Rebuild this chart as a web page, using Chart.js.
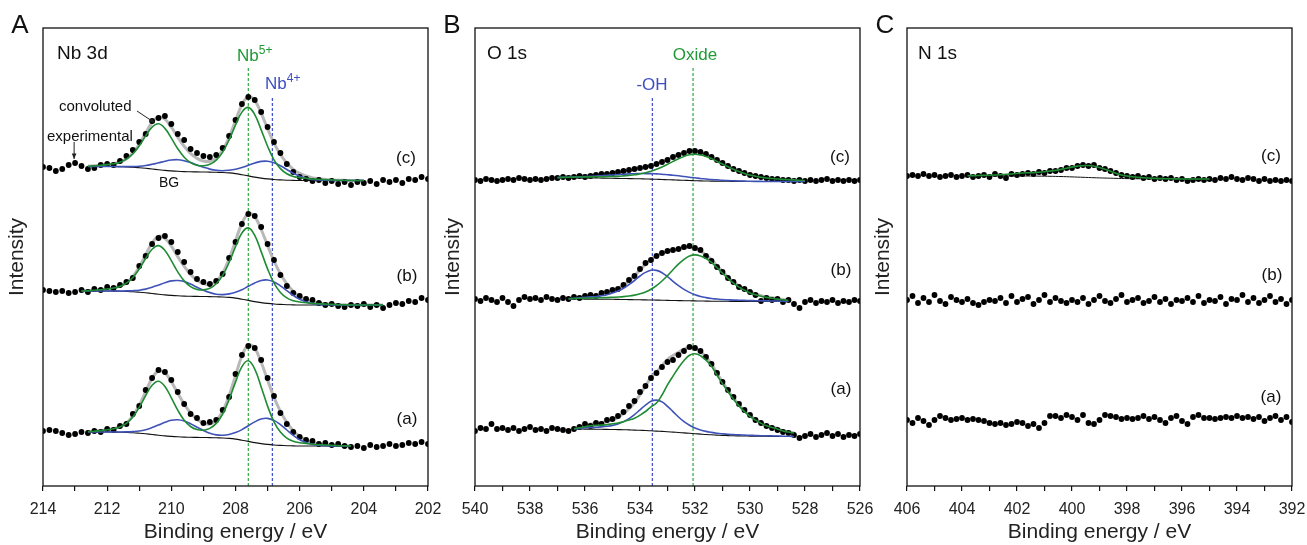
<!DOCTYPE html>
<html>
<head>
<meta charset="utf-8">
<script src="https://cdn.jsdelivr.net/npm/chart.js@4.4.0/dist/chart.umd.min.js"></script>
<style>
  html, body { margin: 0; padding: 0; background: #fff; }
  #wrap { position: relative; width: 1307px; height: 545px; font-family: "Liberation Sans", Arial, sans-serif; color: #111; }
  canvas { position: absolute; top: 0; }
  .lbl { position: absolute; white-space: nowrap; line-height: 1; }
  .c { transform: translate(-50%, -50%); }
  .l { transform: translate(0, -50%); }
  .sup { font-size: 12px; position: relative; top: -7px; }
</style>
</head>
<body>
<div id="wrap">
  <canvas id="chartA" width="445" height="545" style="left:0px"></canvas>
  <canvas id="chartB" width="445" height="545" style="left:432px"></canvas>
  <canvas id="chartC" width="445" height="545" style="left:862px"></canvas>

  <div class="lbl c" style="left:20px;top:24px;font-size:26px">A</div>
  <div class="lbl l" style="left:57px;top:52px;font-size:19px">Nb 3d</div>
  <div class="lbl l" style="left:237px;top:55px;font-size:17px;color:#1f9a35">Nb<span class="sup">5+</span></div>
  <div class="lbl l" style="left:265px;top:83px;font-size:17px;color:#3d4fc0">Nb<span class="sup">4+</span></div>
  <div class="lbl l" style="left:59px;top:105px;font-size:15px">convoluted</div>
  <div class="lbl l" style="left:47px;top:135px;font-size:15px">experimental</div>
  <div class="lbl c" style="left:169px;top:182px;font-size:14px">BG</div>
  <div class="lbl c" style="left:406px;top:157px;font-size:17px">(c)</div>
  <div class="lbl c" style="left:407px;top:275px;font-size:17px">(b)</div>
  <div class="lbl c" style="left:407px;top:418px;font-size:17px">(a)</div>

  <div class="lbl c" style="left:452px;top:24px;font-size:26px">B</div>
  <div class="lbl l" style="left:487px;top:52px;font-size:19px">O 1s</div>
  <div class="lbl c" style="left:695px;top:54px;font-size:17px;color:#1f9a35">Oxide</div>
  <div class="lbl c" style="left:652px;top:84px;font-size:17px;color:#3d4fc0">-OH</div>
  <div class="lbl c" style="left:840px;top:156px;font-size:17px">(c)</div>
  <div class="lbl c" style="left:841px;top:269px;font-size:17px">(b)</div>
  <div class="lbl c" style="left:841px;top:388px;font-size:17px">(a)</div>

  <div class="lbl c" style="left:885px;top:24px;font-size:26px">C</div>
  <div class="lbl l" style="left:918px;top:52px;font-size:19px">N 1s</div>
  <div class="lbl c" style="left:1271px;top:155px;font-size:17px">(c)</div>
  <div class="lbl c" style="left:1272px;top:274px;font-size:17px">(b)</div>
  <div class="lbl c" style="left:1271px;top:396px;font-size:17px">(a)</div>
</div>

<script>
// ===== Data (intensity in arbitrary units, spectra stacked a/b/c) =====
// Nb 3d: experimental, 214 -> 202 eV, step 0.2
const nbExpA = [55,56,55,53,51,52,54,53,55,54, 57,56,60,62,72,80,96,108,116,114, 106,94,82,72,68,63,64,66,76,89, 112,131,140,138,126,108,90,73,62,54, 49,46,45,42,43,41,42,40,39,40, 38,41,39,40,42,40,41,43,42,44, 42];
const nbExpB = [196,195,194,195,193,194,196,194,197,196, 199,198,201,204,208,220,230,242,248,250, 244,234,224,214,207,204,202,205,212,228, 244,262,272,270,259,242,226,211,200,193, 190,187,186,183,181,182,180,179,181,180, 182,179,181,178,181,183,182,185,184,188, 186];
const nbExpC = [319,318,315,317,321,323,320,317,318,321, 322,321,325,330,336,344,352,365,368,370, 362,352,346,337,333,330,329,331,338,350, 366,382,389,386,374,359,344,333,322,314, 309,307,305,306,303,305,302,304,301,304, 303,305,302,306,304,306,303,307,306,309, 307];

// Nb 3d fits (a): 212.6 -> 204.4 eV, step 0.2
const nbBgA = [54,54,54,54,53.9,53.8,53.6,53.3,52.8,52.2, 51.5,50.8,50.1,49.6,49.2,48.9,48.7,48.6,48.5,48.4, 48.2,48.0,47.6,46.9,45.8,44.6,43.4,42.4,41.6,41.0, 40.6,40.3,40.1,40,40,40,40,40,40,40, 40,40];
const nbNb5A = [54.3,54.8,55.4,56.2,57.3,59.1,62.7,69.1,78.6,90.3, 100.7,104.8,99.5,88.2,75.8,65.8,59.5,56.4,55.8,57.6, 62.6,72.0,86.4,103.9,119.4,125.2,116.9,99.1,79.9,64.2, 53.9,47.9,44.8,43.3,42.6,41.8,41.4,41.0,40.7,40.4, 40.2,40.0];
const nbNb4A = [54,54,54,54,54,54,54.1,54.4,55.0,56.3, 58.4,61.0,63.7,65.7,66.2,65.0,62.3,58.8,55.5,52.8, 51.1,50.7,51.5,53.4,56.4,60.3,64.1,67.0,67.6,65.6, 61.3,56.0,50.6,46.3,43.4,41.6,40.7,40.3,40.1,40, 40,40];
const nbEnvA = [54.3,54.8,55.4,56.2,57.4,59.3,63.2,70.2,80.8,94.4, 107.6,115.0,113.1,104.3,92.8,81.9,73.1,66.6,62.8,62.0, 65.5,74.7,90.3,110.4,130.0,140.9,137.6,123.7,105.9,88.8, 74.6,63.6,55.3,49.6,46.0,43.4,42.1,41.3,40.8,40.4, 40.2,40.0];

// Nb 3d fits (b): 212.8 -> 203.4 eV, step 0.2
const nbBgB = [195, 195,195,195,195,194.9,194.8,194.6,194.3,193.8,193.2, 192.5,191.8,191.1,190.6,190.2,189.9,189.7,189.6,189.5,189.4, 189.2,189.0,188.6,187.9,186.8,185.6,184.4,183.4,182.6,182.0, 181.6,181.3,181.1,181,181,181,181,181,181,181, 181,181, 181,181,181,181,181];
const nbNb5B = [195, 195.3,195.7,196.3,197.0,198.0,199.6,202.8,208.5,217.0,227.5, 236.8,240.4,235.6,225.3,214.1,205.1,199.4,196.6,196.1,197.7, 202.2,210.6,223.5,239.2,253.0,258.1,250.6,234.4,217.1,202.9, 193.6,188.1,185.3,184.0,183.3,182.6,182.3,181.9,181.6,181.4, 181.2,181.0, 181,181,181,181,181];
const nbNb4B = [195, 195,195,195,195,195.0,195.0,195.1,195.3,195.8,196.9, 198.7,201.0,203.3,205.1,205.5,204.4,201.9,198.8,195.8,193.4, 191.8,191.4,192.1,193.8,196.3,199.7,203.0,205.5,206.0,204.1, 200.2,195.4,190.6,186.7,184.1,182.4,181.6,181.3,181.1,181, 181,181, 181,181,181,181,181];
const nbEnvB = [195, 195.3,195.7,196.3,197.0,198.1,199.8,203.3,209.5,219.0,231.2, 243.0,249.6,247.8,239.8,229.4,219.6,211.6,205.8,202.4,201.7, 204.8,213.0,227.0,245.1,262.5,272.2,269.2,256.5,240.5,225.0, 212.2,202.2,194.8,189.7,186.4,184.0,182.9,182.2,181.7,181.4, 181.2,181.0, 181,181,181,181,181];

// Nb 3d fits (c): 212.6 -> 204.0 eV, step 0.2
const nbBgC = [319.5,319.5,319.5,319.5,319.4,319.3,319.1,318.8,318.3,317.7, 317.0,316.3,315.6,315.1,314.7,314.4,314.2,314.1,314.0,313.9, 313.7,313.5,313.1,312.4,311.3,310.1,308.9,307.9,307.1,306.5, 306.1,305.8,305.6,305.5,305.5,305.5,305.5,305.5,305.5,305.5, 305.5,305.5,305.5,305.5];
const nbNb5C = [319.8,320.2,320.7,321.4,322.3,323.8,326.8,332.2,340.2,350.1, 358.8,362.2,357.6,347.9,337.3,328.8,323.4,320.7,320.2,321.7, 325.9,333.9,346.1,360.9,373.9,378.6,371.4,356.1,339.7,326.2, 317.4,312.3,309.6,308.3,307.7,307.0,306.7,306.4,306.1,305.8, 305.7,305.5,305.5,305.5];
const nbNb4C = [319.5,319.5,319.5,319.5,319.5,319.4,319.4,319.5,319.8,320.5, 321.7,323.2,324.8,326.0,326.3,325.3,323.4,321.0,318.8,316.9, 315.7,315.3,315.8,316.8,318.5,320.8,323.0,324.6,324.8,323.2, 320.2,316.5,312.7,309.8,307.8,306.6,306.0,305.7,305.6,305.5, 305.5,305.5,305.5,305.5];
const nbEnvC = [319.8,320.2,320.7,321.4,322.4,323.9,327.1,332.9,341.7,352.9, 363.5,369.1,366.8,358.8,348.9,339.7,332.6,327.6,325.0,324.7, 327.9,335.7,348.8,365.3,381.1,389.3,385.5,372.8,357.4,342.9, 331.5,323.0,316.7,312.6,310.0,308.1,307.2,306.6,306.2,305.8, 305.7,305.5,305.5,305.5];

// O 1s: experimental, 540 -> 526 eV, step 0.2
const oExpA = [55,58,57,62,57,58,56,58,55,57, 59,56,57,55,58,57,56,55,57,59, 62,60,63,62,66,67,70,74,80,85, 94,100,108,113,119,124,126,131,135,139, 138,135,129,122,113,104,96,89,82,76, 71,66,63,60,58,56,54,53,51,48, 50,52,49,51,53,50,52,49,51,50, 52];
const oExpB = [187,185,188,186,184,188,184,180,186,189, 187,188,186,189,187,186,188,187,189,188, 190,191,190,193,194,196,197,201,206,210, 217,223,226,230,233,235,236,237,239,240, 238,236,230,225,219,214,208,204,199,197, 194,191,185,188,186,187,184,186,182,178, 184,186,183,185,184,186,183,185,184,186, 185];
const oExpC = [306,305,307,306,305,306,307,306,308,307, 306,307,306,307,308,308,309,308,309,310, 309,310,311,312,312,313,314,315,316,317, 318,319,320,322,324,326,329,331,333,335, 335,334,332,329,326,323,320,317,315,313, 311,310,309,308,307,307,306,306,305,306, 305,306,305,306,307,305,306,305,306,305, 306];

// O 1s fits (a): 536.4 -> 528.4 eV, step 0.2
const oBgA = [57.0,57.0,56.9,56.9,56.8,56.7,56.6,56.5,56.4,56.3, 56.1,55.9,55.7,55.5,55.2,54.9,54.6,54.3,53.9,53.5, 53.1,52.7,52.3,51.9,51.5,51.2,50.9,50.6,50.4,50.2, 50.1,50.0,49.9,49.8,49.7,49.7,49.6,49.6,49.5,49.5, 49.5];
const oOxA = [57.4,58.2,59.2,60.3,60.6,60.9,61.4,62.2,62.9,64.3, 65.9,67.7,70.9,74.5,79.2,83,91,101.1,109.9,118.3, 125.5,130.7,132.3,130.3,125.9,119.8,110.7,102.4,94.2,86.8, 80.1,74.3,69.7,65.8,62.7,60.2,58.6,57.1,55.0,54.0, 53.0];
const oOhA = [57.0,57.6,58.2,58.5,58.7,59.1,59.7,60.6,62.1,64.4, 67.4,71.4,76.2,80.9,84.7,85.9,84.1,79.7,74.4,69.0, 64.4,60.8,58.0,56.0,54.6,53.6,52.8,52.2,51.7,51.4, 51.1,50.9,50.7,50.5,50.3,50.2,50.1,50.0,49.8,49.7, 49.5];
const oEnvA = [57.4,58.8,60.5,61.9,62.5,63.3,64.5,66.3,68.6,72.4, 77.2,83.2,91.4,99.9,108.7,114.0,120.5,126.5,130.4,133.8, 136.8,138.8,138.0,134.4,129.0,122.2,112.6,104.0,95.5,88.0, 81.1,75.2,70.5,66.5,63.3,60.7,59.1,57.5,55.3,54.2, 53.0];

// O 1s fits (b): 536.6 -> 528.6 eV, step 0.2
const oBgB = [187.0,187.0,187.0,186.9,186.9,186.8,186.8,186.7,186.7,186.6, 186.5,186.4,186.3,186.2,186.1,186.0,185.9,185.8,185.6,185.5, 185.4,185.3,185.2,185.1,185.0,184.9,184.8,184.8,184.7,184.7, 184.6,184.6,184.6,184.5,184.5,184.5,184.5,184.5,184.5,184.5, 184.5];
const oOxB = [187.3,187.5,187.7,187.8,188.0,188.1,188.3,188.4,188.7,189.0, 189.4,190.0,190.9,192.2,194.1,196.8,200.4,205.0,210.4,216.3, 221.9,226.6,230.0,231.1,230.1,227.5,223.6,218.2,212.7,207.5, 202.8,198.9,195.7,193.1,191.2,189.7,188.6,187.7,186.9,186.2, 185.5];
const oOhB = [187.0,187.6,188.2,188.7,189.1,189.5,190.3,191.3,192.9,195.0, 197.8,201.4,205.5,210.0,213.6,215.7,215.6,213.3,209.4,204.7, 200.4,196.6,193.6,191.3,189.6,188.4,187.5,187.0,186.5,186.2, 185.9,185.8,185.6,185.4,185.3,185.2,185.1,185.0,184.9,184.7, 184.5];
const oEnvB = [187.3,188.1,188.9,189.6,190.2,190.8,191.8,193.0,194.9,197.4, 200.7,205.0,210.1,216.0,221.6,226.5,230.1,232.5,234.2,235.5, 236.9,237.9,238.4,237.3,234.7,231.0,226.3,220.4,214.5,209.0, 204.1,200.1,196.7,194.0,192.0,190.4,189.2,188.2,187.3,186.4, 185.5];

// O 1s fits (c): 537.0 -> 528.0 eV, step 0.2
const oBgC = [308.3,308.3,308.2,308.2,308.1,308.1,308.0,308.0,307.9,307.8, 307.7,307.6,307.5,307.4,307.3,307.2,307.0,306.9,306.7,306.5, 306.3,306.1,305.9,305.7,305.5,305.3,305.1,305.0,304.9,304.8, 304.7,304.7,304.6,304.6,304.6,304.5,304.5,304.5,304.5,304.5, 304.5,304.5,304.5,304.5,304.5,304.5];
const oOxC = [308.3,308.6,308.7,308.9,309.0,309.1,309.1,309.3,309.3,309.4, 309.6,309.7,310.1,310.6,311.2,312.2,313.3,314.8,316.7,319.0, 321.7,324.6,327.3,329.6,331.2,331.7,331.0,329.6,327.5,324.5, 321.8,319.2,316.7,314.5,312.6,311.0,309.8,308.8,308.0,307.5, 307.0,306.6,306.4,306.1,305.7,305.5];
const oOhC = [308.6,308.7,308.8,308.9,309.1,309.4,309.6,310.0,310.3,310.7, 311.0,311.4,311.8,312.1,312.3,312.5,312.4,312.4,312.1,311.8, 311.3,310.8,310.2,309.5,308.8,308.2,307.5,307.0,306.5,306.1, 305.7,305.4,305.2,305.0,304.9,304.7,304.6,304.6,304.5,304.5, 304.5,304.5,304.5,304.5,304.5,304.5];
const oEnvC = [308.6,309.0,309.3,309.6,310.0,310.4,310.7,311.3,311.7,312.3, 312.9,313.5,314.4,315.3,316.2,317.5,318.7,320.3,322.1,324.3, 326.7,329.3,331.6,333.4,334.5,334.6,333.4,331.6,329.1,325.8, 322.8,319.9,317.3,314.9,312.9,311.2,309.9,308.9,308.0,307.5, 307.0,306.6,306.4,306.1,305.7,305.5];

// N 1s: experimental, 406 -> 392 eV, step 0.2
const nExpA = [66,63,68,65,61,66,70,68,66,67, 68,66,67,66,65,63,62,63,61,62, 64,63,60,62,58,63,70,70,68,71, 69,66,71,63,62,66,71,70,69,67, 68,67,68,70,67,69,66,63,68,70, 65,62,69,71,68,68,67,68,69,68, 70,68,69,67,69,65,68,70,66,69, 64];
const nExpB = [186,190,183,188,184,191,185,182,189,186, 184,187,183,181,184,186,185,188,183,190, 184,187,189,182,186,191,184,188,185,183, 186,184,188,182,186,190,185,183,187,191, 184,186,188,183,185,189,184,187,182,186, 185,188,184,190,183,186,185,189,182,187, 186,191,184,188,183,186,190,184,187,182, 186];
const nExpC = [310,311,310,312,310,311,309,310,311,309, 310,311,309,310,311,309,312,310,308,312, 311,312,313,312,314,313,315,315,316,318, 318,320,321,320,321,318,317,315,313,311, 310,309,310,308,309,307,308,307,308,306, 307,305,306,307,306,307,306,308,307,309, 307,306,308,307,305,307,305,306,305,306, 305];
// N 1s fit (c): 403.8 -> 395.0 eV, step 0.4
const nBgC = [310.2,310.2,310.1,310.1,310.0,310.0,309.9,309.8,309.6,309.3, 308.9,308.5,308.1,307.8,307.5,307.3,307.2,307.1,307.0,307.0, 307.0,307.0,307.0];
const nFitC = [310.2,310.5,310.8,311.3,312.0,313.0,313.4,314.3,315.6,317.8, 319.9,320.5,318.6,314.8,311.0,309.3,308.2,307.6,307.3,307.1, 307.0,307.0,307.0];

// marker positions (eV) and heights of the dashed guide lines
const nb5Pos = 207.6, nb4Pos = 206.85, oxidePos = 532.07, ohPos = 533.55;
const guideTopHigh = 418, guideTopLow = 389;

// ===== Styling =====
const GREEN = "#1f8c34";
const GREEN_DASH = "#3fb04f";
const BLUE = "#3f52b8";
const BLUE_DASH = "#4455cc";
const FONT = "'Liberation Sans', Arial, sans-serif";

// spectrum from a start energy and step
function spectrum(start, step, ys) {
    return ys.map((y, i) => ({ x: +(start - i * step).toFixed(2), y: y }));
}

function dots(data) {
    return { data: data, showLine: false, pointRadius: 2.9, pointHoverRadius: 2.9,
             pointBackgroundColor: "#000", pointBorderWidth: 0, order: 3 };
}

function curve(data, color, width, order) {
    return { data: data, showLine: true, borderColor: color, borderWidth: width,
             pointRadius: 0, tension: 0.4, fill: false, order: order };
}

function guide(pos, top, color) {
    return { data: [{ x: pos, y: 0 }, { x: pos, y: top }], showLine: true, borderColor: color,
             borderWidth: 1.3, borderDash: [3, 2], pointRadius: 0, order: 6 };
}

// ===== Plugins =====
const framePlugin = {
    id: "frame",
    afterDraw(chart) {
        const { ctx, chartArea: a } = chart;
        ctx.save();
        ctx.strokeStyle = "#111";
        ctx.lineWidth = 1.3;
        ctx.strokeRect(a.left, a.top, a.right - a.left, a.bottom - a.top);
        ctx.restore();
    }
};

const arrowPlugin = {
    id: "arrows",
    afterDatasetsDraw(chart, args, opts) {
        const { ctx, scales: { x, y } } = chart;
        (opts.list || []).forEach(a => {
            const x1 = x.getPixelForValue(a.from[0]), y1 = y.getPixelForValue(a.from[1]);
            const x2 = x.getPixelForValue(a.to[0]), y2 = y.getPixelForValue(a.to[1]);
            const ang = Math.atan2(y2 - y1, x2 - x1);
            ctx.save();
            ctx.strokeStyle = "#222";
            ctx.fillStyle = "#222";
            ctx.lineWidth = 1;
            ctx.beginPath();
            ctx.moveTo(x1, y1);
            ctx.lineTo(x2, y2);
            ctx.stroke();
            ctx.beginPath();
            ctx.moveTo(x2, y2);
            ctx.lineTo(x2 - 6 * Math.cos(ang - 0.4), y2 - 6 * Math.sin(ang - 0.4));
            ctx.lineTo(x2 - 6 * Math.cos(ang + 0.4), y2 - 6 * Math.sin(ang + 0.4));
            ctx.closePath();
            ctx.fill();
            ctx.restore();
        });
    }
};

// ===== Chart builder =====
function makePanel(id, p) {
    return new Chart(document.getElementById(id), {
        type: "scatter",
        data: { datasets: p.datasets },
        plugins: [framePlugin, arrowPlugin],
        options: {
            responsive: false,
            animation: false,
            devicePixelRatio: 1,
            events: [],
            layout: { autoPadding: false, padding: { left: 0, top: 28, right: p.padRight, bottom: 0 } },
            plugins: {
                legend: { display: false },
                tooltip: { enabled: false },
                arrows: { list: p.arrows || [] }
            },
            scales: {
                x: {
                    type: "linear",
                    reverse: true,
                    min: p.xMin,
                    max: p.xMax,
                    afterFit: s => { s.height = 59; s.paddingLeft = 0; s.paddingRight = 0; },
                    border: { display: false },
                    grid: { display: true, drawOnChartArea: false, drawTicks: true, tickLength: 5,
                            color: "#111", lineWidth: 1.2 },
                    ticks: {
                        stepSize: 1, autoSkip: false, maxRotation: 0, padding: 9,
                        color: "#222", font: { family: FONT, size: 16 },
                        callback: v => (v % 2 === 0 ? v : "")
                    },
                    title: { display: true, text: "Binding energy / eV", color: "#222",
                             font: { family: FONT, size: 21, lineHeight: 1.2 },
                             padding: { top: 0, bottom: 0 } }
                },
                y: {
                    min: 0,
                    max: 458,
                    afterFit: s => { s.width = p.yWidth; },
                    border: { display: false },
                    grid: { display: false },
                    ticks: { display: false },
                    title: { display: true, text: "Intensity", color: "#222",
                             font: { family: FONT, size: 21, lineHeight: 1.2 },
                             padding: { top: p.titlePad, bottom: 0 } }
                }
            }
        }
    });
}

// ===== Panel A: Nb 3d =====
makePanel("chartA", {
    xMin: 202, xMax: 214, yWidth: 43, padRight: 17, titlePad: 5,
    arrows: [
        { from: [211.07, 375], to: [210.51, 363] },
        { from: [213.03, 344], to: [213.03, 327] }
    ],
    datasets: [
        curve(spectrum(212.6, 0.2, nbNb5A), GREEN, 1.6, 1),
        curve(spectrum(212.6, 0.2, nbNb4A), BLUE, 1.6, 1),
        curve(spectrum(212.6, 0.2, nbBgA), "#111", 1.1, 2),
        curve(spectrum(212.8, 0.2, nbNb5B), GREEN, 1.6, 1),
        curve(spectrum(212.8, 0.2, nbNb4B), BLUE, 1.6, 1),
        curve(spectrum(212.8, 0.2, nbBgB), "#111", 1.1, 2),
        curve(spectrum(212.6, 0.2, nbNb5C), GREEN, 1.6, 1),
        curve(spectrum(212.6, 0.2, nbNb4C), BLUE, 1.6, 1),
        curve(spectrum(212.6, 0.2, nbBgC), "#111", 1.1, 2),
        dots(spectrum(214, 0.2, nbExpA)),
        dots(spectrum(214, 0.2, nbExpB)),
        dots(spectrum(214, 0.2, nbExpC)),
        curve(spectrum(212.6, 0.2, nbEnvA), "#b8b8b8", 3, 4),
        curve(spectrum(212.8, 0.2, nbEnvB), "#b8b8b8", 3, 4),
        curve(spectrum(212.6, 0.2, nbEnvC), "#b8b8b8", 3, 4),
        guide(nb5Pos, guideTopHigh, GREEN_DASH),
        guide(nb4Pos, guideTopLow, BLUE_DASH)
    ]
});

// ===== Panel B: O 1s =====
makePanel("chartB", {
    xMin: 526, xMax: 540, yWidth: 43, padRight: 17, titlePad: 9,
    datasets: [
        curve(spectrum(536.4, 0.2, oOxA), GREEN, 1.6, 1),
        curve(spectrum(536.4, 0.2, oOhA), BLUE, 1.6, 1),
        curve(spectrum(536.4, 0.2, oBgA), "#111", 1.1, 2),
        curve(spectrum(536.6, 0.2, oOxB), GREEN, 1.6, 1),
        curve(spectrum(536.6, 0.2, oOhB), BLUE, 1.6, 1),
        curve(spectrum(536.6, 0.2, oBgB), "#111", 1.1, 2),
        curve(spectrum(537.0, 0.2, oOxC), GREEN, 1.6, 1),
        curve(spectrum(537.0, 0.2, oOhC), BLUE, 1.6, 1),
        curve(spectrum(537.0, 0.2, oBgC), "#111", 1.1, 2),
        dots(spectrum(540, 0.2, oExpA)),
        dots(spectrum(540, 0.2, oExpB)),
        dots(spectrum(540, 0.2, oExpC)),
        curve(spectrum(536.4, 0.2, oEnvA), "#b8b8b8", 3, 4),
        curve(spectrum(536.6, 0.2, oEnvB), "#b8b8b8", 3, 4),
        curve(spectrum(537.0, 0.2, oEnvC), "#b8b8b8", 3, 4),
        guide(oxidePos, guideTopHigh, GREEN_DASH),
        guide(ohPos, guideTopLow, BLUE_DASH)
    ]
});

// ===== Panel C: N 1s =====
makePanel("chartC", {
    xMin: 392, xMax: 406, yWidth: 45, padRight: 15, titlePad: 9,
    datasets: [
        curve(spectrum(403.8, 0.4, nFitC), GREEN, 1.6, 1),
        curve(spectrum(403.8, 0.4, nBgC), "#111", 1.0, 2),
        dots(spectrum(406, 0.2, nExpA)),
        dots(spectrum(406, 0.2, nExpB)),
        dots(spectrum(406, 0.2, nExpC))
    ]
});
</script>
</body>
</html>
